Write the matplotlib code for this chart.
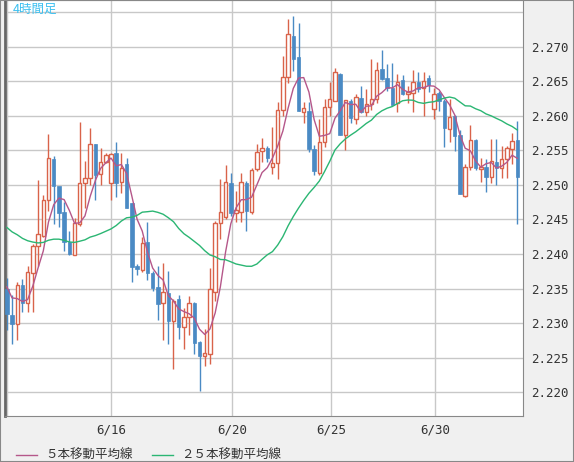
import matplotlib
matplotlib.use("Agg")
import matplotlib.pyplot as plt
from matplotlib.patches import Rectangle
import numpy as np
import pandas as pd

plt.rcParams['font.family'] = ['Noto Sans CJK JP', 'DejaVu Sans']

# 4-hour OHLC
opens = [2.2349, 2.2312, 2.2299, 2.2355, 2.2329, 2.2373, 2.2412, 2.2426, 2.2478, 2.2538,
         2.2499, 2.2461, 2.2418, 2.2399, 2.2443, 2.2503, 2.2510, 2.2559, 2.2516, 2.2533,
         2.2503, 2.2546, 2.2504, 2.2530, 2.2474, 2.2383, 2.2377, 2.2417, 2.2372, 2.2352,
         2.2329, 2.2343, 2.2303, 2.2335, 2.2294, 2.2309, 2.2329, 2.2272, 2.2252, 2.2255,
         2.2345, 2.2445, 2.2453, 2.2503, 2.2459, 2.2461, 2.2503, 2.2461, 2.2523, 2.2549,
         2.2554, 2.2526, 2.2532, 2.2609, 2.2657, 2.2716, 2.2686, 2.2606, 2.2607, 2.2552,
         2.2517, 2.2562, 2.2613, 2.2622, 2.2661, 2.2573, 2.2622, 2.2596, 2.2626, 2.2606,
         2.2617, 2.2625, 2.2668, 2.2655, 2.2641, 2.2619, 2.2652, 2.2632, 2.2633, 2.2649,
         2.2641, 2.2655, 2.2610, 2.2633, 2.2622, 2.2581, 2.2600, 2.2572, 2.2484, 2.2526,
         2.2565, 2.2523, 2.2526, 2.2512, 2.2533, 2.2525, 2.2538, 2.2552, 2.2565]
closes = [2.2313, 2.2299, 2.2355, 2.2329, 2.2374, 2.2412, 2.2429, 2.2478, 2.2539, 2.2499,
          2.2460, 2.2418, 2.2400, 2.2445, 2.2503, 2.2510, 2.2559, 2.2515, 2.2533, 2.2543,
          2.2545, 2.2503, 2.2524, 2.2467, 2.2381, 2.2378, 2.2416, 2.2372, 2.2351, 2.2328,
          2.2345, 2.2303, 2.2332, 2.2294, 2.2309, 2.2329, 2.2271, 2.2252, 2.2256, 2.2349,
          2.2445, 2.2461, 2.2504, 2.2460, 2.2464, 2.2504, 2.2462, 2.2522, 2.2548, 2.2554,
          2.2539, 2.2532, 2.2609, 2.2657, 2.2719, 2.2683, 2.2607, 2.2612, 2.2552, 2.2520,
          2.2562, 2.2613, 2.2625, 2.2664, 2.2573, 2.2623, 2.2597, 2.2628, 2.2606, 2.2617,
          2.2625, 2.2667, 2.2654, 2.2641, 2.2616, 2.2649, 2.2632, 2.2635, 2.2649, 2.2639,
          2.2651, 2.2645, 2.2632, 2.2622, 2.2583, 2.2599, 2.2571, 2.2487, 2.2526, 2.2565,
          2.2525, 2.2526, 2.2512, 2.2535, 2.2525, 2.2538, 2.2554, 2.2564, 2.2512]
highs = [2.2365, 2.2341, 2.2360, 2.2364, 2.2383, 2.2414, 2.2507, 2.2486, 2.2574, 2.2542,
         2.2490, 2.2476, 2.2433, 2.2452, 2.2591, 2.2535, 2.2583, 2.2560, 2.2553, 2.2546,
         2.2547, 2.2562, 2.2546, 2.2539, 2.2474, 2.2385, 2.2424, 2.2446, 2.2375, 2.2383,
         2.2387, 2.2375, 2.2335, 2.2340, 2.2322, 2.2339, 2.2331, 2.2274, 2.2292, 2.2380,
         2.2448, 2.2508, 2.2529, 2.2517, 2.2491, 2.2517, 2.2506, 2.2525, 2.2560, 2.2568,
         2.2556, 2.2584, 2.2620, 2.2687, 2.2740, 2.2745, 2.2735, 2.2620, 2.2620, 2.2558,
         2.2596, 2.2624, 2.2649, 2.2670, 2.2662, 2.2623, 2.2625, 2.2632, 2.2643, 2.2639,
         2.2683, 2.2678, 2.2695, 2.2675, 2.2676, 2.2661, 2.2660, 2.2644, 2.2667, 2.2664,
         2.2663, 2.2659, 2.2641, 2.2636, 2.2624, 2.2625, 2.2601, 2.2579, 2.2531, 2.2587,
         2.2566, 2.2539, 2.2537, 2.2567, 2.2567, 2.2556, 2.2557, 2.2575, 2.2593]
lows = [2.2290, 2.2270, 2.2276, 2.2316, 2.2316, 2.2316, 2.2383, 2.2425, 2.2463, 2.2444,
        2.2439, 2.2405, 2.2398, 2.2398, 2.2440, 2.2466, 2.2500, 2.2478, 2.2500, 2.2532,
        2.2478, 2.2482, 2.2489, 2.2466, 2.2359, 2.2370, 2.2374, 2.2362, 2.2346, 2.2304,
        2.2275, 2.2270, 2.2233, 2.2277, 2.2263, 2.2283, 2.2255, 2.2202, 2.2238, 2.2241,
        2.2332, 2.2422, 2.2450, 2.2455, 2.2447, 2.2446, 2.2433, 2.2458, 2.2520, 2.2533,
        2.2533, 2.2516, 2.2509, 2.2600, 2.2648, 2.2665, 2.2607, 2.2590, 2.2548, 2.2515,
        2.2515, 2.2555, 2.2600, 2.2621, 2.2573, 2.2550, 2.2590, 2.2588, 2.2604, 2.2600,
        2.2609, 2.2619, 2.2652, 2.2636, 2.2616, 2.2606, 2.2631, 2.2619, 2.2606, 2.2635,
        2.2600, 2.2635, 2.2596, 2.2607, 2.2555, 2.2562, 2.2549, 2.2487, 2.2483, 2.2522,
        2.2522, 2.2505, 2.2490, 2.2503, 2.2500, 2.2510, 2.2510, 2.2530, 2.2443]
# closes before the visible window, needed for the moving averages
prior_closes = [2.2460] * 20 + [2.2380, 2.2360, 2.2350, 2.2360]

date_labels = ["6/16", "6/20", "6/25", "6/30"]
date_pos = [20.0, 43.2, 62.2, 82.2]
price_ticks = [2.220, 2.225, 2.230, 2.235, 2.240, 2.245, 2.250, 2.255, 2.260, 2.265, 2.270]

UP = "#d9634a"
DOWN = "#4a8ac4"
MA5_C = "#b5578a"
MA25_C = "#2bb673"
GRID = "#c8c8c8"

all_close = pd.Series(prior_closes + closes)
n_prior = len(prior_closes)
ma5 = all_close.rolling(5).mean().iloc[n_prior:].to_numpy()
ma25 = all_close.rolling(25).mean().iloc[n_prior:].to_numpy()

fig = plt.figure(figsize=(5.74, 4.62), dpi=100, facecolor="#f0f0f0")
ax = fig.add_axes([5 / 574, 46.5 / 462, 518 / 574, 415.5 / 462])
ax.set_facecolor("white")

x = np.arange(len(closes))
ax.set_xlim(-0.35, len(closes) + 0.1)
ax.set_ylim(2.2166, 2.2768)

for xv in [0.0] + date_pos:
    ax.axvline(xv, color=GRID, lw=1, zorder=0)
for yv in price_ticks + [2.275]:
    ax.axhline(yv, color=GRID, lw=1, zorder=0)

w = 0.66
for i in x:
    o, c, h, l = opens[i], closes[i], highs[i], lows[i]
    if c >= o:
        ax.vlines(i, l, o, color=UP, lw=1, zorder=2)
        ax.vlines(i, c, h, color=UP, lw=1, zorder=2)
        ax.add_patch(Rectangle((i - w / 2, o), w, max(c - o, 0.00005), facecolor="white",
                               edgecolor=UP, lw=1, zorder=3))
    else:
        ax.vlines(i, l, h, color=DOWN, lw=1, zorder=2)
        ax.add_patch(Rectangle((i - w / 2, c), w, o - c, facecolor=DOWN,
                               edgecolor=DOWN, lw=0.5, zorder=3))

ax.plot(x, ma5, color=MA5_C, lw=1, zorder=4)
ax.plot(x, ma25, color=MA25_C, lw=1, zorder=4)

ax.yaxis.tick_right()
ax.set_yticks(price_ticks)
ax.set_yticklabels([f"{v:.3f}" for v in price_ticks], family="DejaVu Sans Mono", fontsize=9)
ax.set_xticks(date_pos)
ax.set_xticklabels(date_labels, family="DejaVu Sans Mono", fontsize=9)
ax.tick_params(length=0, pad=6, colors="#333333")
for side, sp in ax.spines.items():
    sp.set_color("#888888")
ax.spines["left"].set_color("#666666")
ax.spines["left"].set_linewidth(2)

ax.text(0.015, 0.993, "4時間足", transform=ax.transAxes, color="#3cc0f0",
        fontsize=9, va="top", ha="left")

fig.lines.append(plt.Line2D([16 / 574, 37 / 574], [7 / 462, 7 / 462], color=MA5_C, lw=1,
                            transform=fig.transFigure))
fig.text(45 / 574, 7 / 462, "５本移動平均線", fontsize=9, va="center", color="#333333")
fig.lines.append(plt.Line2D([152 / 574, 173 / 574], [7 / 462, 7 / 462], color=MA25_C, lw=1,
                            transform=fig.transFigure))
fig.text(181 / 574, 7 / 462, "２５本移動平均線", fontsize=9, va="center", color="#333333")

fig.patches.append(Rectangle((0, 0), 1, 1, transform=fig.transFigure, fill=False,
                             edgecolor="#888888", lw=1.5))

fig.savefig("out.png", dpi=100, facecolor=fig.get_facecolor())
